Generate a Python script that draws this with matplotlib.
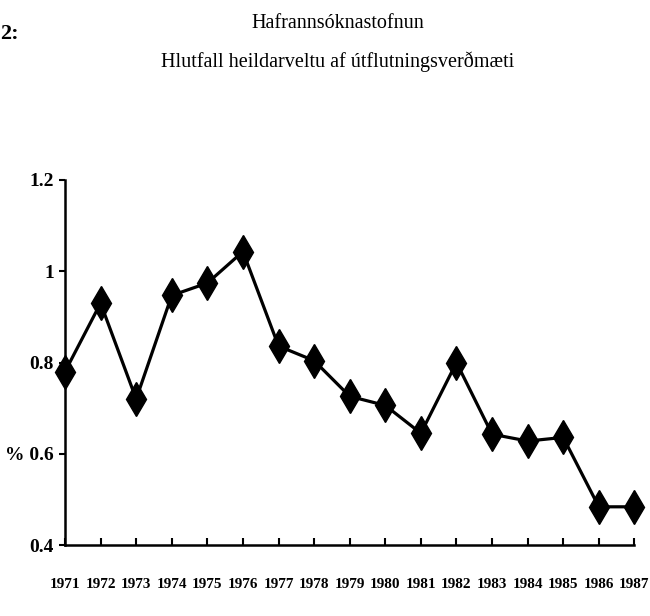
import matplotlib
matplotlib.use('Agg')
import matplotlib.pyplot as plt

years = [1971, 1972, 1973, 1974, 1975, 1976, 1977, 1978, 1979,
         1980, 1981, 1982, 1983, 1984, 1985, 1986, 1987]
ratio = [0.78, 0.93, 0.72, 0.947, 0.974, 1.043, 0.836, 0.804, 0.726,
         0.706, 0.645, 0.80, 0.643, 0.628, 0.636, 0.484, 0.484]
yticks = [0.4, 0.6, 0.8, 1.0, 1.2]
ytick_labels = ['0.4', '% 0.6', '0.8', '1', '1.2']

title1 = 'Hafrannsóknastofnun'
title2 = 'Hlutfall heildarveltu af útflutningsverðmæti'

font = dict(family=['Liberation Serif', 'DejaVu Serif'])


def main():
    fig = plt.figure(figsize=(6.5, 6.16), dpi=100)
    ax = fig.add_axes([0.1, 0.115, 0.876, 0.593])

    ax.plot(years, ratio, color='black', lw=2.3, marker='d', ms=17,
            clip_on=False, zorder=3)

    ax.set_xlim(1971, 1987)
    ax.set_ylim(0.4, 1.2)
    for s in ['top', 'right']:
        ax.spines[s].set_visible(False)
    for s in ['left', 'bottom']:
        ax.spines[s].set_linewidth(1.8)

    ax.set_yticks(yticks)
    ax.set_yticklabels(ytick_labels, fontsize=14, fontweight='bold', **font)
    ax.tick_params(axis='y', direction='out', length=4, width=1.5, pad=4)

    ax.set_xticks(years)
    ax.set_xticklabels([str(y) for y in years], fontsize=11,
                       fontweight='bold', **font)
    ax.tick_params(axis='x', direction='in', length=5, width=1.5, pad=24)

    fig.text(0.52, 0.962, title1, ha='center', va='center', fontsize=14.5, **font)
    fig.text(0.52, 0.9, title2, ha='center', va='center', fontsize=14.5, **font)
    fig.text(0.0, 0.945, '2:', ha='left', va='center', fontsize=16,
             fontweight='bold', **font)

    fig.savefig('out.png', dpi=100)


if __name__ == '__main__':
    main()
